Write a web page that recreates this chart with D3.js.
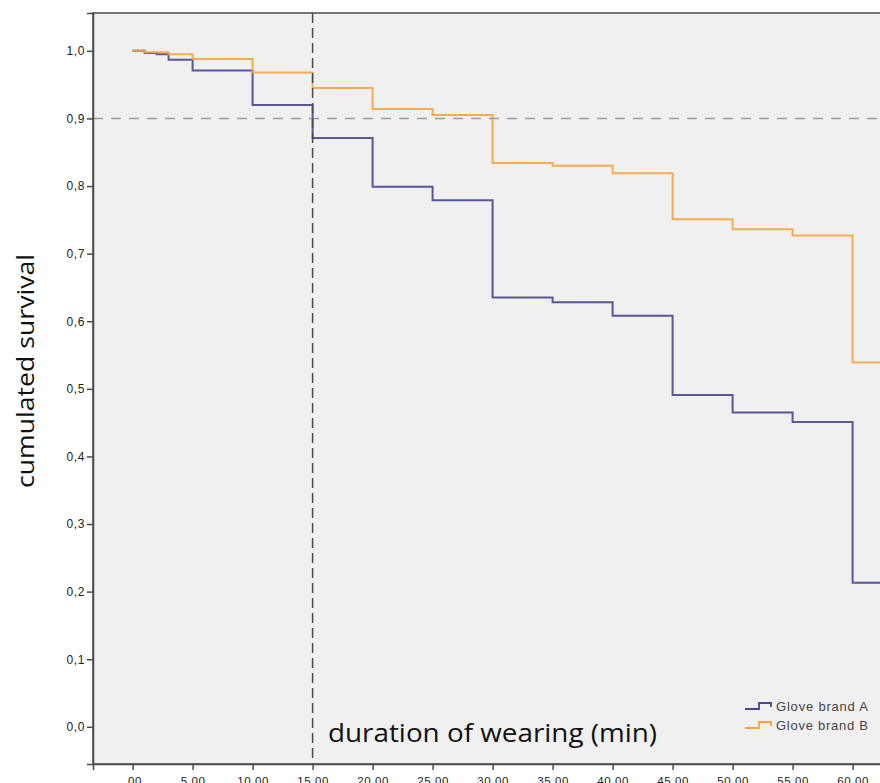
<!DOCTYPE html>
<html>
<head>
<meta charset="utf-8">
<script src="https://cdn.jsdelivr.net/npm/d3@7"></script>
<style>
  html, body { margin: 0; padding: 0; background: #ffffff; }
  svg { display: block; }
</style>
</head>
<body>
<svg id="chart" width="880" height="783"></svg>
<script>
// ---- data ----
const stepTimes  = [0, 1, 2, 3, 5, 10, 15, 20, 25, 30, 35, 40, 45, 50, 55, 60];
const survivalA  = [1.000, 0.997, 0.995, 0.987, 0.971, 0.920, 0.871, 0.799, 0.779, 0.635, 0.628, 0.608, 0.491, 0.465, 0.451, 0.213];
const survivalB  = [1.000, 0.998, 0.998, 0.995, 0.988, 0.968, 0.945, 0.914, 0.905, 0.834, 0.830, 0.819, 0.751, 0.736, 0.727, 0.539];
const seriesNames = ["Glove brand A", "Glove brand B"];
const xTickValues = [0, 5, 10, 15, 20, 25, 30, 35, 40, 45, 50, 55, 60];
const xTickLabels = [".00", "5.00", "10.00", "15.00", "20.00", "25.00", "30.00", "35.00", "40.00", "45.00", "50.00", "55.00", "60.00"];
const yTickValues = [0, 0.1, 0.2, 0.3, 0.4, 0.5, 0.6, 0.7, 0.8, 0.9, 1.0];
const yTickLabels = ["0,0", "0,1", "0,2", "0,3", "0,4", "0,5", "0,6", "0,7", "0,8", "0,9", "1,0"];
const refTime = 15;
const refSurvival = 0.9;
const xTitle = "duration of wearing (min)";
const yTitle = "cumulated survival";
const colors = ["#46468f", "#f6a43c"];

(function () {
// ---- layout ----
const svg = d3.select("#chart");
const pLeft = 93, pTop = 13, pBottom = 764;
const x = d3.scaleLinear().domain([-3.3, 64]).range([pLeft, pLeft + 67.3 * 12]);
const y = d3.scaleLinear().domain([-0.055, 1.056]).range([pBottom, pTop]);
const pRight = x.range()[1];

// plot background
svg.append("rect")
  .attr("x", pLeft).attr("y", pTop)
  .attr("width", pRight - pLeft).attr("height", pBottom - pTop)
  .attr("fill", "#f0f0f0")
  .attr("stroke", "#4a4a4a").attr("stroke-width", 1.5);

// curves
const line = d3.line()
  .x(d => x(d[0])).y(d => y(d[1]))
  .curve(d3.curveStepAfter);
[survivalA, survivalB].forEach((vals, i) => {
  const pts = stepTimes.map((t, j) => [t, vals[j]]);
  pts.push([x.domain()[1], vals[vals.length - 1]]);
  svg.append("path")
    .datum(pts)
    .attr("d", line)
    .attr("fill", "none")
    .attr("stroke", colors[i])
    .attr("stroke-width", 2)
    .attr("stroke-opacity", 0.9);
});

// reference lines
svg.append("line")
  .attr("x1", pLeft).attr("x2", pRight)
  .attr("y1", y(refSurvival)).attr("y2", y(refSurvival))
  .attr("stroke", "#9a9a9a").attr("stroke-width", 1.5)
  .attr("stroke-dasharray", "10,8");
svg.append("line")
  .attr("x1", x(refTime)).attr("x2", x(refTime))
  .attr("y1", pTop).attr("y2", pBottom)
  .attr("stroke", "#4a4a4a").attr("stroke-width", 1.5)
  .attr("stroke-dasharray", "10,5");

// axes
const xAxis = d3.axisBottom(x)
  .tickValues(xTickValues)
  .tickFormat((d, i) => xTickLabels[i])
  .tickSizeOuter(0).tickSize(6).tickPadding(7);
const gx = svg.append("g").attr("transform", `translate(0,${pBottom})`).call(xAxis);
gx.select(".domain").attr("stroke", "#4a4a4a").attr("stroke-width", 1.5);
gx.selectAll(".tick line").attr("stroke", "#4a4a4a").attr("stroke-width", 1.5);
gx.selectAll(".tick text")
  .attr("font-family", "Arial, 'Liberation Sans', sans-serif")
  .attr("font-size", 11.5).attr("fill", "#222")
  .attr("letter-spacing", 0.6);

const yAxis = d3.axisLeft(y)
  .tickValues(yTickValues)
  .tickFormat((d, i) => yTickLabels[i])
  .tickSizeOuter(0).tickSize(6).tickPadding(2);
const gy = svg.append("g").attr("transform", `translate(${pLeft},0)`).call(yAxis);
gy.select(".domain").attr("stroke", "#4a4a4a").attr("stroke-width", 1.5);
gy.selectAll(".tick line").attr("stroke", "#4a4a4a").attr("stroke-width", 1.5);
gy.selectAll(".tick text")
  .attr("font-family", "Arial, 'Liberation Sans', sans-serif")
  .attr("font-size", 12).attr("fill", "#222")
  .attr("letter-spacing", 0.6);

// axis titles
svg.append("text")
  .attr("x", 328).attr("y", 742)
  .attr("font-family", "'Open Sans', sans-serif")
  .attr("font-size", 26).attr("fill", "#111")
  .attr("textLength", 329).attr("lengthAdjust", "spacingAndGlyphs")
  .text(xTitle);
svg.append("text")
  .attr("transform", "translate(34,371) rotate(-90)")
  .attr("text-anchor", "middle")
  .attr("font-family", "'Open Sans', sans-serif")
  .attr("font-size", 24).attr("fill", "#111")
  .attr("textLength", 234).attr("lengthAdjust", "spacingAndGlyphs")
  .text(yTitle);

// legend
seriesNames.forEach((name, i) => {
  const oy = i * 19;
  svg.append("path")
    .attr("d", `M745,${709 + oy} H759 V${703 + oy} H771 V${707 + oy}`)
    .attr("fill", "none").attr("stroke", colors[i]).attr("stroke-width", 1.8);
  svg.append("text")
    .attr("x", 776).attr("y", 711 + oy)
    .attr("font-family", "Arial, 'Liberation Sans', sans-serif")
    .attr("font-size", 13).attr("fill", "#444")
    .attr("textLength", 92).attr("lengthAdjust", "spacing")
    .text(name);
});
})();
</script>
</body>
</html>
